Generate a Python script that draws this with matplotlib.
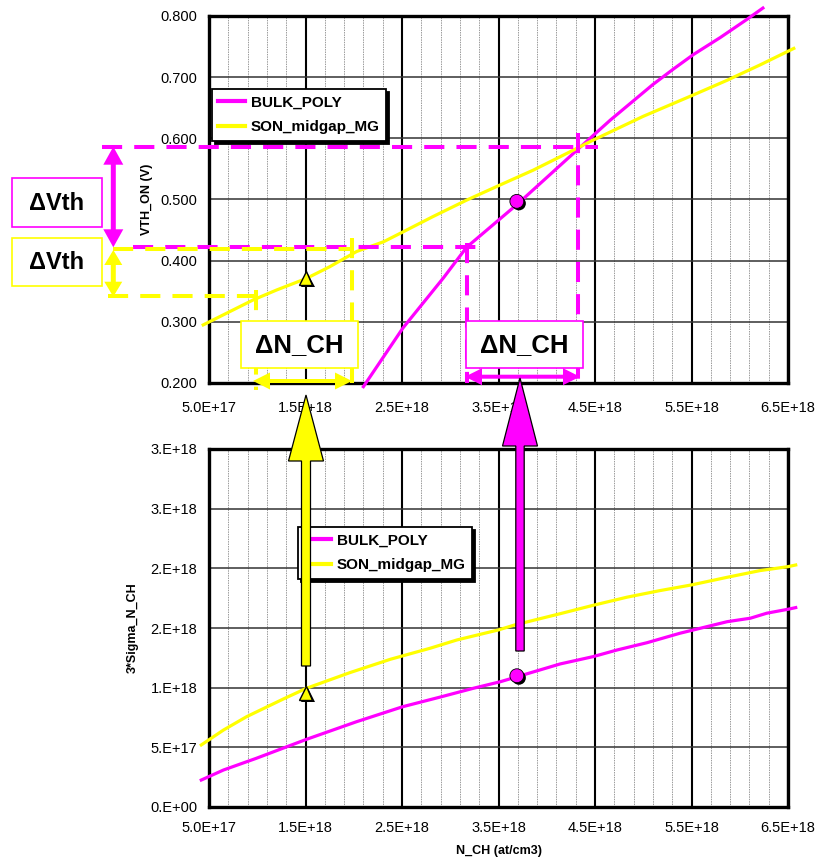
import matplotlib
matplotlib.use('Agg')
import matplotlib.pyplot as plt
import matplotlib.patheffects as pe
from matplotlib.patches import Polygon, Rectangle
from matplotlib.lines import Line2D
import numpy as np

plt.rcParams['font.family'] = ['Liberation Sans', 'DejaVu Sans']

MAGENTA = '#FF00FF'
YELLOW = '#FFFF00'

# ---------------- data (N_CH in at/cm3) ----------------
series_names = ['BULK_POLY', 'SON_midgap_MG']

bulk_vth_n = [2.10e18, 2.51e18, 2.93e18, 3.17e18, 3.70e18, 4.35e18, 4.66e18, 5.10e18,
              5.31e18, 5.52e18, 5.80e18, 6.07e18, 6.24e18]
bulk_vth_v = [0.194, 0.290, 0.372, 0.422, 0.493, 0.586, 0.630, 0.688,
              0.713, 0.737, 0.765, 0.794, 0.813]

son_vth_n = [0.44e18, 0.96e18, 1.20e18, 1.51e18, 1.75e18, 2.03e18, 2.31e18, 2.51e18,
             2.82e18, 3.17e18, 3.52e18, 3.86e18, 4.14e18, 4.48e18, 5.00e18, 5.52e18,
             5.87e18, 6.21e18, 6.56e18]
son_vth_v = [0.295, 0.336, 0.352, 0.371, 0.390, 0.415, 0.431, 0.447,
             0.472, 0.499, 0.524, 0.548, 0.570, 0.597, 0.636, 0.671,
             0.695, 0.720, 0.747]

bulk_sig_n = [0.42e18, 0.65e18, 0.99e18, 1.51e18, 2.03e18, 2.51e18, 2.89e18, 3.24e18,
              3.52e18, 4.14e18, 4.48e18, 4.73e18, 5.04e18, 5.38e18, 5.87e18, 6.11e18,
              6.28e18, 6.50e18, 6.58e18]
bulk_sig_v = [0.226e18, 0.310e18, 0.408e18, 0.567e18, 0.715e18, 0.841e18, 0.920e18, 0.995e18,
              1.050e18, 1.199e18, 1.260e18, 1.316e18, 1.377e18, 1.456e18, 1.553e18, 1.582e18,
              1.624e18, 1.657e18, 1.671e18]

son_sig_n = [0.42e18, 0.65e18, 0.89e18, 1.27e18, 1.51e18, 1.96e18, 2.38e18, 2.79e18,
             3.07e18, 3.50e18, 3.67e18, 4.14e18, 4.48e18, 4.83e18, 5.17e18, 5.50e18,
             5.87e18, 6.21e18, 6.50e18, 6.58e18]
son_sig_v = [0.520e18, 0.645e18, 0.757e18, 0.905e18, 0.995e18, 1.126e18, 1.238e18, 1.330e18,
             1.400e18, 1.484e18, 1.526e18, 1.620e18, 1.690e18, 1.758e18, 1.813e18, 1.861e18,
             1.925e18, 1.981e18, 2.014e18, 2.028e18]

# highlighted operating points: (N, Vth, 3*sigma)
son_point = (1.5e18, 0.371, 0.955e18)
bulk_point = (3.69e18, 0.497, 1.10e18)

x_ticks = [5e17, 1.5e18, 2.5e18, 3.5e18, 4.5e18, 5.5e18, 6.5e18]
x_tick_labels = ['5.0E+17', '1.5E+18', '2.5E+18', '3.5E+18', '4.5E+18', '5.5E+18', '6.5E+18']
vth_ticks = [0.2, 0.3, 0.4, 0.5, 0.6, 0.7, 0.8]
vth_tick_labels = ['0.200', '0.300', '0.400', '0.500', '0.600', '0.700', '0.800']
sig_ticks = [0, 5e17, 1e18, 1.5e18, 2e18, 2.5e18, 3e18]
sig_tick_labels = ['0.E+00', '5.E+17', '1.E+18', '2.E+18', '2.E+18', '3.E+18', '3.E+18']

# ---------------- figure ----------------
W, H = 819, 864
fig = plt.figure(figsize=(W / 100, H / 100), dpi=100)


def fig_rect(l, t, r, b):
    return [l / W, 1 - b / H, (r - l) / W, (b - t) / H]


ax1 = fig.add_axes(fig_rect(209, 16, 788, 383))
ax2 = fig.add_axes(fig_rect(209, 449, 788, 807))


def style(ax, yticks, ylabels, xpad):
    ax.set_xlim(5e17, 6.5e18)
    ax.set_xticks(x_ticks)
    ax.set_xticklabels(x_tick_labels)
    ax.set_xticks(np.arange(5e17, 6.5e18 + 1e16, 2e17), minor=True)
    ax.set_ylim(yticks[0], yticks[-1])
    ax.set_yticks(yticks)
    ax.set_yticklabels(ylabels)
    ax.set_axisbelow(True)
    ax.grid(which='minor', axis='x', color='#9a9a9a', lw=0.7, ls=(0, (1.5, 1)))
    ax.grid(which='major', axis='x', color='black', lw=1.5)
    ax.grid(which='major', axis='y', color='#333333', lw=1.1)
    ax.tick_params(which='both', length=0, labelsize=10.5)
    ax.tick_params(axis='y', pad=8.5)
    ax.tick_params(axis='x', pad=xpad)
    for s in ax.spines.values():
        s.set_linewidth(2.4)
        s.set_color('black')


style(ax1, vth_ticks, vth_tick_labels, 13)
style(ax2, sig_ticks, sig_tick_labels, 10)

shadow = [pe.SimplePatchShadow(offset=(1.5, -1.5), shadow_rgbFace='black', alpha=1), pe.Normal()]

# top: VTH_ON
ax1.plot(bulk_vth_n, bulk_vth_v, color=MAGENTA, lw=2.3, clip_on=False, zorder=3)
ax1.plot(son_vth_n, son_vth_v, color=YELLOW, lw=2.3, clip_on=False, zorder=3)
ax1.plot([son_point[0]], [son_point[1]], marker='^', ms=10, mfc=YELLOW, mec='black', mew=1,
         ls='none', zorder=4, path_effects=shadow)
ax1.plot([bulk_point[0]], [bulk_point[1]], marker='o', ms=10, mfc=MAGENTA, mec='black', mew=0.6,
         ls='none', zorder=4, path_effects=shadow)
ax1.set_ylabel('VTH_ON (V)', fontsize=9, fontweight='bold')
ax1.yaxis.set_label_coords(-0.097, 0.5)

# bottom: 3*sigma
ax2.plot(bulk_sig_n, bulk_sig_v, color=MAGENTA, lw=2.3, clip_on=False, zorder=3)
ax2.plot(son_sig_n, son_sig_v, color=YELLOW, lw=2.3, clip_on=False, zorder=3)
ax2.plot([son_point[0]], [son_point[2]], marker='^', ms=10, mfc=YELLOW, mec='black', mew=1,
         ls='none', zorder=4, path_effects=shadow)
ax2.plot([bulk_point[0]], [bulk_point[2]], marker='o', ms=10, mfc=MAGENTA, mec='black', mew=0.6,
         ls='none', zorder=4, path_effects=shadow)
ax2.set_ylabel('3*Sigma_N_CH', fontsize=9, fontweight='bold')
ax2.yaxis.set_label_coords(-0.122, 0.5)
ax2.set_xlabel('N_CH (at/cm3)', fontsize=9, fontweight='bold')
ax2.xaxis.set_label_coords(0.5, -0.105)

handles = [Line2D([], [], color=MAGENTA, lw=3), Line2D([], [], color=YELLOW, lw=3)]


def add_legend(ax, left, top):
    leg = ax.legend(handles, series_names, loc='upper left',
                    bbox_to_anchor=(left / W, 1 - top / H), bbox_transform=fig.transFigure,
                    borderaxespad=0, prop={'weight': 'bold', 'size': 11},
                    handlelength=1.75, handletextpad=0.35, borderpad=0.42, labelspacing=0.72,
                    fancybox=False, edgecolor='black', framealpha=1,
                    shadow={'color': 'black', 'alpha': 1})
    leg.get_frame().set_linewidth(1.3)
    return leg


add_legend(ax1, 212, 89)
add_legend(ax2, 298, 527)

# ---------------- annotation overlay (figure pixels) ----------------
ov = fig.add_axes([0, 0, 1, 1], zorder=10)
ov.set_xlim(0, W)
ov.set_ylim(H, 0)
ov.axis('off')
ov.patch.set_visible(False)

dash = (0, (5, 3))
mag_guides = [((101.7, 146.7), (598, 146.7)), ((578.3, 133), (578.3, 383)),
              ((133, 247.3), (480, 247.3)), ((466.7, 243), (466.7, 383))]
yel_guides = [((113, 248.5), (353, 248.5)), ((351.7, 238), (351.7, 383)),
              ((108, 296), (256.7, 296)), ((256, 290), (256, 390))]
for (p0, p1) in mag_guides:
    ov.plot([p0[0], p1[0]], [p0[1], p1[1]], color=MAGENTA, lw=2.9, ls=dash)
for (p0, p1) in yel_guides:
    ov.plot([p0[0], p1[0]], [p0[1], p1[1]], color=YELLOW, lw=2.9, ls=dash)


def box(x, y, w, h, color, text, size):
    ov.add_patch(Rectangle((x, y), w, h, fc='white', ec=color, lw=1.2, zorder=3))
    ov.text(x + w / 2, y + h / 2 + 1, text, ha='center', va='center', fontsize=size,
            fontweight='bold', color='black', zorder=4)


box(11.7, 178.3, 90, 48.4, MAGENTA, '\u0394Vth', 17)
box(11.7, 237.7, 90, 48.3, YELLOW, '\u0394Vth', 17)
box(241, 320.7, 116.7, 47.6, YELLOW, '\u0394N_CH', 18.5)
box(465.7, 320.7, 117, 47.6, MAGENTA, '\u0394N_CH', 18.5)


def dbl_arrow(p0, p1, shaft_w, head_w, head_l, color):
    p0 = np.array(p0, float)
    p1 = np.array(p1, float)
    d = (p1 - p0) / np.linalg.norm(p1 - p0)
    n = np.array([-d[1], d[0]])
    b0 = p0 + d * head_l
    b1 = p1 - d * head_l
    pts = [p0, b0 + n * head_w / 2, b0 + n * shaft_w / 2, b1 + n * shaft_w / 2,
           b1 + n * head_w / 2, p1, b1 - n * head_w / 2, b1 - n * shaft_w / 2,
           b0 - n * shaft_w / 2, b0 - n * head_w / 2]
    ov.add_patch(Polygon(pts, closed=True, fc=color, ec='none', zorder=5))


dbl_arrow((113.3, 146.7), (113.3, 247.3), 5, 20, 18, MAGENTA)
dbl_arrow((113.3, 250), (113.3, 296.7), 5, 18, 15, YELLOW)
dbl_arrow((253, 381), (352, 381), 4, 17, 17, YELLOW)
dbl_arrow((465, 376.7), (580, 376.7), 4, 17, 17, MAGENTA)


def block_arrow(x, tip_y, base_y, bottom, shaft_hw, head_hw, color):
    pts = [(x, tip_y), (x + head_hw, base_y), (x + shaft_hw, base_y), (x + shaft_hw, bottom),
           (x - shaft_hw, bottom), (x - shaft_hw, base_y), (x - head_hw, base_y)]
    ov.add_patch(Polygon(pts, closed=True, fc=color, ec='black', lw=0.9, zorder=6))


block_arrow(306, 395, 461, 666, 4.5, 17.5, YELLOW)
block_arrow(520, 378, 446, 651, 4.2, 17.5, MAGENTA)

fig.savefig('out.png', dpi=100)
